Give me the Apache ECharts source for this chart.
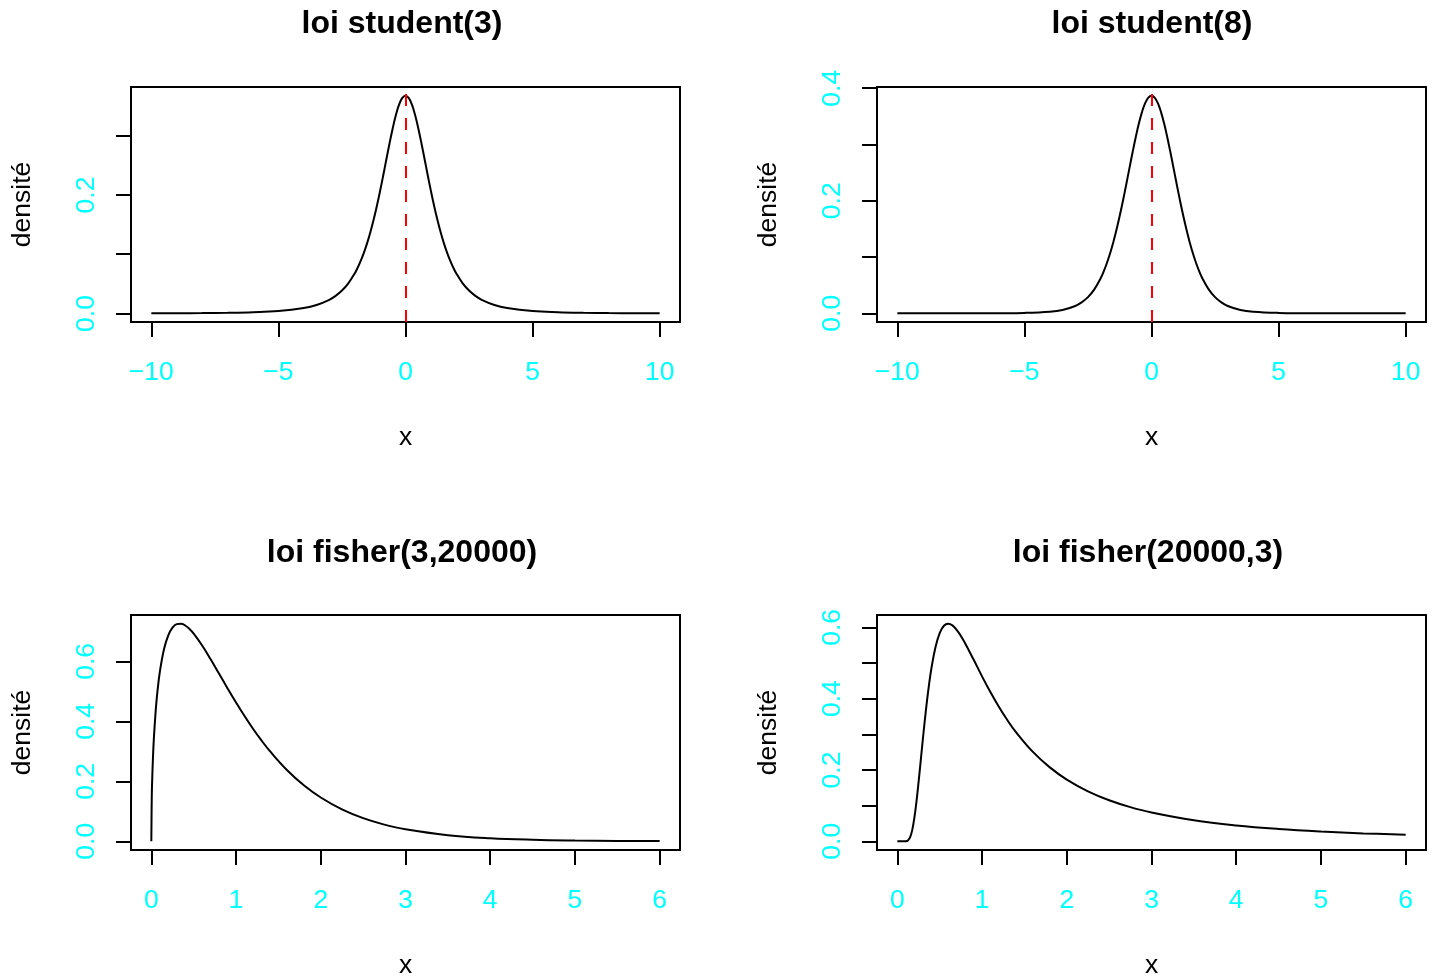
<!DOCTYPE html>
<html>
<head>
<meta charset="utf-8">
<script src="https://cdn.jsdelivr.net/npm/echarts@6/dist/echarts.min.js"></script>
<style>
html,body{margin:0;padding:0;background:#fff;}
#chart{width:1437px;height:980px;}
</style>
</head>
<body>
<div id="chart"></div>
<script>
// ---- data ----
const titles = ["loi student(3)", "loi student(8)", "loi fisher(3,20000)", "loi fisher(20000,3)"];

const tX = [-10,-9,-8,-7,-6,-5,-4,-3.5,-3,-2.75,-2.5,-2.25,-2,-1.875,-1.75,-1.625,-1.5,-1.375,-1.25,-1.125,-1,-0.875,-0.75,-0.625,-0.5,-0.375,-0.25,-0.125,0,
            0.125,0.25,0.375,0.5,0.625,0.75,0.875,1,1.125,1.25,1.375,1.5,1.625,1.75,1.875,2,2.25,2.5,2.75,3,3.5,4,5,6,7,8,9,10];
const t3Y = [0.0003,0.0005,0.0007,0.0012,0.0022,0.0042,0.0092,0.0142,0.0230,0.0297,0.0387,0.0509,0.0675,0.0779,0.0900,0.1040,0.1200,0.1383,0.1589,0.1818,0.2068,0.2333,0.2607,0.2878,0.3132,0.3354,0.3528,0.3638,0.3676,
             0.3638,0.3528,0.3354,0.3132,0.2878,0.2607,0.2333,0.2068,0.1818,0.1589,0.1383,0.1200,0.1040,0.0900,0.0779,0.0675,0.0509,0.0387,0.0297,0.0230,0.0142,0.0092,0.0042,0.0022,0.0012,0.0007,0.0005,0.0003];
const t8Y = [0.0000,0.0000,0.0000,0.0001,0.0002,0.0007,0.0028,0.0059,0.0130,0.0194,0.0288,0.0426,0.0624,0.0751,0.0899,0.1071,0.1268,0.1489,0.1732,0.1997,0.2276,0.2563,0.2848,0.3120,0.3367,0.3575,0.3734,0.3833,0.3867,
             0.3833,0.3734,0.3575,0.3367,0.3120,0.2848,0.2563,0.2276,0.1997,0.1732,0.1489,0.1268,0.1071,0.0899,0.0751,0.0624,0.0426,0.0288,0.0194,0.0130,0.0059,0.0028,0.0007,0.0002,0.0001,0.0000,0.0000,0.0000];

const f1X = [0,0.005,0.01,0.02,0.03,0.05,0.06,0.075,0.1,0.15,0.2,0.25,0.3,0.35,0.4,0.45,0.5,0.6,0.7,0.8,0.9,1,1.1,1.2,1.3,1.4,1.6,1.8,2,2.25,2.5,2.75,3,3.5,4,4.5,5,5.5,6];
const f1Y = [0,0.1455,0.2042,0.2845,0.3433,0.4300,0.4641,0.5073,0.5643,0.6411,0.6868,0.7124,0.7240,0.7255,0.7195,0.7080,0.6925,0.6529,0.6069,0.5585,0.5098,0.4625,0.4176,0.3754,0.3363,0.3005,0.2379,0.1869,0.1460,0.1064,0.0771,0.0556,0.0399,0.0204,0.0103,0.0052,0.0026,0.0013,0.0006];

const f2X = [0,0.05,0.1,0.125,0.15,0.175,0.2,0.225,0.25,0.275,0.3,0.325,0.35,0.375,0.4,0.45,0.5,0.55,0.6,0.65,0.7,0.75,0.8,0.9,1,1.1,1.2,1.3,1.4,1.6,1.8,2,2.25,2.5,2.75,3,3.5,4,4.5,5,5.5,6];
const f2Y = [0,0,0.0002,0.0023,0.0108,0.0307,0.0641,0.1099,0.1644,0.2236,0.2833,0.3408,0.3936,0.4409,0.4818,0.5444,0.5838,0.6044,0.6102,0.6055,0.5931,0.5759,0.5556,0.5096,0.4625,0.4177,0.3765,0.3393,0.3062,0.2507,0.2073,0.1731,0.1402,0.1151,0.0958,0.0807,0.0589,0.0445,0.0346,0.0275,0.0222,0.0183];

const xTicksT = [-10,-5,0,5,10];
const xTicksF = [0,1,2,3,4,5,6];
const yTicks = [[0,0.1,0.2,0.3],[0,0.1,0.2,0.3,0.4],[0,0.2,0.4,0.6],[0,0.1,0.2,0.3,0.4,0.5,0.6]];
const yLabels = [[0,0.2],[0,0.2,0.4],[0,0.2,0.4,0.6],[0,0.2,0.4,0.6]];
const xName = "x";
const yName = "densité";

// ---- layout ----
const FONT = '"Liberation Sans", Arial, Helvetica, sans-serif';
const FS = 26.5;
const grids = [
  {left:131, top:87, width:549, height:235},
  {left:877, top:87, width:549, height:235},
  {left:131, top:615, width:549, height:235},
  {left:877, top:615, width:549, height:235}
];
const titlePos = [[402,24],[1152,24],[402,553],[1148,553]];
const xs = [tX, tX, f1X, f2X];
const ys = [t3Y, t8Y, f1Y, f2Y];
const xTicksAll = [xTicksT, xTicksT, xTicksF, xTicksF];

function ext(arr){ const mn=Math.min(...arr), mx=Math.max(...arr); const d=(mx-mn)*0.04; return [mn-d, mx+d]; }
function fmtX(v){ return v<0 ? '\u2212'+Math.abs(v) : String(v); }

const option = {
  animation:false,
  backgroundColor:'#fff',
  graphic: titles.map((t,i)=>({
    type:'text', x:titlePos[i][0], y:titlePos[i][1], silent:true,
    style:{text:t, fontFamily:FONT, fontSize:32, fontWeight:'bold', fill:'#000', align:'center', verticalAlign:'middle'}
  })),
  grid: grids.map(g=>({left:g.left, top:g.top, width:g.width, height:g.height, show:true, borderColor:'#000', borderWidth:2, backgroundColor:'transparent', containLabel:false})),
  xAxis: grids.map((g,i)=>{
    const e = ext(xs[i]);
    return {
      gridIndex:i, type:'value', min:e[0], max:e[1],
      axisLine:{show:true, onZero:false, lineStyle:{color:'#000', width:2}},
      axisTick:{show:true, customValues:xTicksAll[i], length:15, inside:false, lineStyle:{color:'#000', width:2}},
      axisLabel:{customValues:xTicksAll[i], color:'#00FFFF', fontSize:FS, fontFamily:FONT, margin:37, formatter:fmtX},
      splitLine:{show:false},
      name:xName, nameLocation:'middle', nameGap:102,
      nameTextStyle:{fontSize:FS, fontFamily:FONT, color:'#000'}
    };
  }),
  yAxis: grids.map((g,i)=>{
    const e = ext(ys[i]);
    return {
      gridIndex:i, type:'value', min:e[0], max:e[1],
      axisLine:{show:true, onZero:false, lineStyle:{color:'#000', width:2}},
      axisTick:{show:true, customValues:yTicks[i], length:15, inside:false, lineStyle:{color:'#000', width:2}},
      axisLabel:{customValues:yLabels[i], color:'#00FFFF', fontSize:FS, fontFamily:FONT, margin:31, rotate:90, formatter:v=>v.toFixed(1)},
      splitLine:{show:false},
      name:yName, nameLocation:'middle', nameGap:95, nameRotate:90,
      nameTextStyle:{fontSize:FS, fontFamily:FONT, color:'#000'}
    };
  }),
  series: grids.map((g,i)=>{
    const s = {
      type:'line', xAxisIndex:i, yAxisIndex:i,
      data: xs[i].map((x,k)=>[x, ys[i][k]]),
      showSymbol:false, symbol:'none', smooth:0.4,
      lineStyle:{color:'#000', width:2}, clip:true
    };
    if(i<2){
      s.markLine = {silent:true, symbol:['none','none'], label:{show:false},
        lineStyle:{color:'#FF0000', width:2, type:[12,12]},
        data:[{xAxis:0}]};
    }
    return s;
  })
};

const chart = echarts.init(document.getElementById('chart'), null, {renderer:'canvas'});
chart.setOption(option);
</script>
</body>
</html>
